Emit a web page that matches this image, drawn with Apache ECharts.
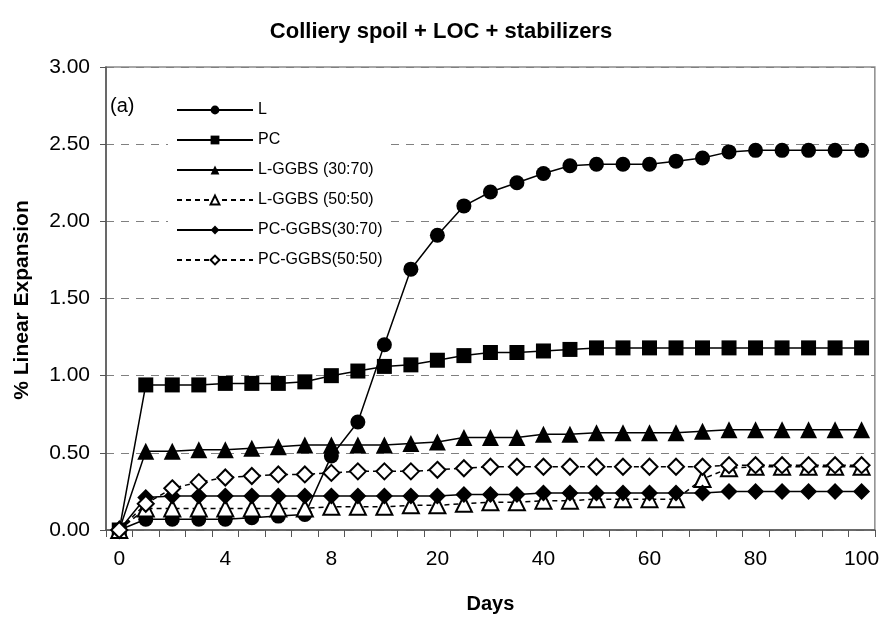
<!DOCTYPE html>
<html><head><meta charset="utf-8">
<script src="https://cdn.jsdelivr.net/npm/echarts@6/dist/echarts.min.js"></script>
<style>html,body{margin:0;padding:0;background:#fff}#c{width:882px;height:619px}</style>
</head><body><div id="c"></div>
<script>
// Days (category axis; only every 4th label is shown in the reference)
const days = ['0','1','2','3','4','5','6','7','8','10','12','15','20','25','30','35','40','45','50','55','60','65','70','75','80','85','90','95','100'];
const yTicks = [0, 0.5, 1, 1.5, 2, 2.5, 3];
const names = ['L', 'PC', 'L-GGBS (30:70)', 'L-GGBS (50:50)', 'PC-GGBS(30:70)', 'PC-GGBS(50:50)'];
const L     = [0, 0.07, 0.07, 0.07, 0.07, 0.08, 0.09, 0.10, 0.48, 0.70, 1.20, 1.69, 1.91, 2.10, 2.19, 2.25, 2.31, 2.36, 2.37, 2.37, 2.37, 2.39, 2.41, 2.45, 2.46, 2.46, 2.46, 2.46, 2.46];
const PC    = [0, 0.94, 0.94, 0.94, 0.95, 0.95, 0.95, 0.96, 1.00, 1.03, 1.06, 1.07, 1.10, 1.13, 1.15, 1.15, 1.16, 1.17, 1.18, 1.18, 1.18, 1.18, 1.18, 1.18, 1.18, 1.18, 1.18, 1.18, 1.18];
const LG30  = [0, 0.51, 0.51, 0.52, 0.52, 0.53, 0.54, 0.55, 0.55, 0.55, 0.55, 0.56, 0.57, 0.60, 0.60, 0.60, 0.62, 0.62, 0.63, 0.63, 0.63, 0.63, 0.64, 0.65, 0.65, 0.65, 0.65, 0.65, 0.65];
const LG50  = [0, 0.14, 0.14, 0.14, 0.14, 0.14, 0.14, 0.14, 0.15, 0.15, 0.15, 0.16, 0.16, 0.17, 0.18, 0.18, 0.19, 0.19, 0.20, 0.20, 0.20, 0.20, 0.33, 0.40, 0.41, 0.41, 0.41, 0.41, 0.41];
const PCG30 = [0, 0.21, 0.22, 0.22, 0.22, 0.22, 0.22, 0.22, 0.22, 0.22, 0.22, 0.22, 0.22, 0.23, 0.23, 0.23, 0.24, 0.24, 0.24, 0.24, 0.24, 0.24, 0.24, 0.25, 0.25, 0.25, 0.25, 0.25, 0.25];
const PCG50 = [0, 0.17, 0.27, 0.31, 0.34, 0.35, 0.36, 0.36, 0.37, 0.38, 0.38, 0.38, 0.39, 0.40, 0.41, 0.41, 0.41, 0.41, 0.41, 0.41, 0.41, 0.41, 0.41, 0.42, 0.42, 0.42, 0.42, 0.42, 0.42];

const FONT = '"Liberation Sans", Arial, sans-serif';
const chart = echarts.init(document.getElementById('c'), null, {renderer: 'canvas'});

function mk(name, data, symbol, size, hollow, dashed) {
  return {
    name: name, type: 'line', data: data,
    symbol: symbol, symbolSize: size, showSymbol: true,
    lineStyle: {color: '#000', width: 1.5, type: dashed ? [5, 4] : 'solid'},
    itemStyle: hollow ? {color: '#fff', borderColor: '#000', borderWidth: 2} : {color: '#000', borderColor: '#000', borderWidth: 0},
    emphasis: {disabled: true},
    animation: false
  };
}

chart.setOption({
  backgroundColor: '#fff',
  animation: false,
  title: {
    text: 'Colliery spoil + LOC + stabilizers',
    left: 'center', top: 16,
    textStyle: {fontFamily: FONT, fontWeight: 'bold', fontSize: 22, color: '#000'}
  },
  grid: {left: 106, top: 67, right: 1, bottom: 86, show: true, borderColor: '#8c8c8c', borderWidth: 1.5, backgroundColor: 'transparent'},
  legend: {
    orient: 'vertical', left: 168, top: 94,
    padding: [8, 8, 8, 8],
    backgroundColor: '#fff',
    itemWidth: 76, itemHeight: 11, itemGap: 14,
    textStyle: {fontFamily: FONT, fontSize: 16, color: '#000', lineHeight: 16},
    data: names
  },
  xAxis: {
    type: 'category', data: days, boundaryGap: true,
    name: 'Days', nameLocation: 'middle', nameGap: 64,
    nameTextStyle: {fontFamily: FONT, fontWeight: 'bold', fontSize: 20, color: '#000'},
    axisLine: {lineStyle: {color: '#555', width: 1.5}},
    axisTick: {show: true, interval: 0, length: 7, lineStyle: {color: '#555', width: 1}},
    axisLabel: {interval: 3, margin: 19, fontFamily: FONT, fontSize: 21, color: '#000'}
  },
  yAxis: {
    type: 'value', min: 0, max: 3, interval: 0.5,
    axisLine: {show: true, lineStyle: {color: '#555', width: 1.5}},
    axisTick: {show: true, length: 6, lineStyle: {color: '#555', width: 1}},
    axisLabel: {margin: 16, fontFamily: FONT, fontSize: 21, color: '#000', formatter: v => v.toFixed(2)},
    splitLine: {show: true, lineStyle: {color: '#808080', width: 1, type: [8, 7]}}
  },
  graphic: [
    {type: 'text', left: 110, top: 96, z: 10, style: {text: '(a)', fontFamily: FONT, fontSize: 20, fill: '#000'}},
    {type: 'text', x: 22, y: 300, rotation: Math.PI / 2,
     style: {text: '% Linear Expansion', fontFamily: FONT, fontWeight: 'bold', fontSize: 21, fill: '#000', align: 'center', verticalAlign: 'middle'}}
  ],
  series: [
    mk(names[0], L, 'circle', 15, false, false),
    mk(names[1], PC, 'rect', 15, false, false),
    mk(names[2], LG30, 'triangle', 17, false, false),
    mk(names[3], LG50, 'triangle', 16, true, true),
    mk(names[4], PCG30, 'diamond', 17, false, false),
    mk(names[5], PCG50, 'diamond', 16, true, true)
  ]
});
</script>
</body></html>
